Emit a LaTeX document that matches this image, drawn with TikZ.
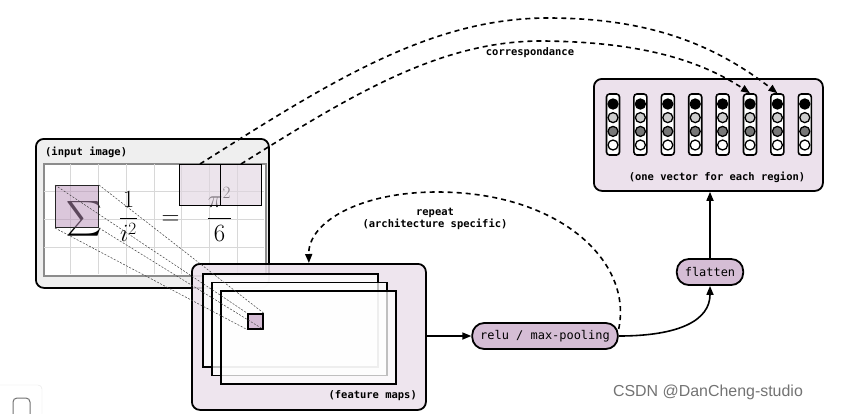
\documentclass[tikz,border=0pt]{standalone}
\usepackage{exscale}
\usepackage{fontspec}
\setmonofont{DejaVu Sans Mono}
\newfontfamily\wmfont{Liberation Sans}
\usetikzlibrary{arrows.meta}
\definecolor{inbg}{HTML}{EFEFEF}
\definecolor{pbg}{HTML}{ECE1EC}
\definecolor{opfill}{HTML}{D5BDD5}
\definecolor{sumfill}{HTML}{B890B8}
\definecolor{winfill}{HTML}{E0D3E0}
\definecolor{gridc}{HTML}{D8D8D8}
\definecolor{circl}{HTML}{CCCCCC}
\definecolor{circd}{HTML}{777777}
\begin{document}
\begin{tikzpicture}[x=1bp,y=-1bp,
  panel/.style={draw=black,line width=1.8bp,rounded corners=8bp,anchor=north west,inner sep=0pt},
  lbl/.style={font=\ttfamily\bfseries\fontsize{10.5}{12}\selectfont,inner sep=0pt},
  opnode/.style={draw=black,line width=1.8bp,rounded corners=12bp,fill=opfill,font=\ttfamily\fontsize{12}{14}\selectfont,minimum height=26bp,inner xsep=8bp,inner ysep=0pt},
  fmap/.style={draw=black,line width=1.8bp,fill=white,fill opacity=0.75,minimum width=175bp,minimum height=93bp,anchor=north west,inner sep=0pt},
  win/.style={draw=black,line width=1bp,fill=winfill,fill opacity=0.6,minimum width=41bp,minimum height=41bp,anchor=north west,inner sep=0pt},
  corr/.style={draw=black,line width=1.6bp,dash pattern=on 5bp off 4bp,-{Triangle[length=9bp,width=7bp]}},
  arr/.style={draw=black,line width=1.6bp,-{Triangle[length=9bp,width=7bp]}},
  rf/.style={draw=black!75,line width=0.5bp,dash pattern=on 2bp off 1.5bp},
  vcol/.style={draw=black,line width=1.6bp,fill=white,rounded corners=3bp,minimum width=13bp,minimum height=61bp,inner sep=0pt},
  vdot/.style={circle,draw=black,line width=1.3bp,minimum size=10bp,inner sep=0pt},
  mathtxt/.style={inner sep=0pt,font=\fontsize{26}{30}\selectfont}
]
\useasboundingbox (0,0) rectangle (846,413);
\fill[white] (0,0) rectangle (846,413);

% bottom-left fragment
\draw[black!10,fill=white,rounded corners=4bp] (-5,385) rectangle (42,420);
\draw[black!55,line width=1bp,rounded corners=4bp] (13,398) rectangle (30,420);

% input image panel
\node[panel,fill=inbg,minimum width=233bp,minimum height=149bp] (inp) at (35,138) {};
\node[lbl,anchor=west] (inplbl) at (45,152) {(input image)};
\node[draw=black!45,line width=1.5bp,fill=white,minimum width=222bp,minimum height=112bp,anchor=north west,inner sep=0pt] (img) at (43,163) {};
\foreach \i in {1,...,7} \draw[gridc,line width=0.8bp] ({43+27.75*\i},164) -- ({43+27.75*\i},274);
\foreach \j in {1,...,3} \draw[gridc,line width=0.8bp] (44,{163+28*\j}) -- (264,{163+28*\j});

\node[mathtxt,font=\fontsize{24}{28}\selectfont] (sig) at (84,219) {$\displaystyle\sum$};
\node[mathtxt,anchor=base] (f1) at (128.5,224.5) {$\displaystyle\frac{1}{i^2}$};
\node[mathtxt,anchor=base] (eq) at (170.5,224.5) {$=$};
\node[mathtxt,anchor=base] (f2) at (219.5,224.5) {$\displaystyle\frac{\pi^2}{6}$};

\node[draw=black!85,line width=1bp,fill=sumfill,fill opacity=0.5,minimum width=43bp,minimum height=42bp,anchor=north west,inner sep=0pt] (sq) at (55,185) {};
\node[win] (w1) at (179,164) {};
\node[win] (w2) at (220,164) {};

% feature maps panel
\node[panel,fill=pbg,fill opacity=0.85,minimum width=234bp,minimum height=146bp] (fm) at (191,263) {};
\node[lbl,anchor=east] (fmlbl) at (417,396) {(feature maps)};
\node[fmap] (r1) at (202,273) {};
\node[fmap] (r2) at (211,281.5) {};
\node[fmap] (r3) at (220,290) {};
\node[draw=black,line width=1.5bp,fill=opfill,minimum width=15bp,minimum height=15bp,anchor=north west,inner sep=0pt] (fs) at (247,313) {};

\draw[rf] (sq.north west) -- (fs.north west);
\draw[rf] (sq.north east) -- (fs.north east);
\draw[rf] (sq.south west) -- (fs.south west);
\draw[rf] (sq.south east) -- (fs.south east);

% vector panel
\node[panel,fill=pbg,minimum width=229bp,minimum height=112bp] (vec) at (593,78) {};
\node[lbl] (veclbl) at (717,177) {(one vector for each region)};
\foreach \i in {1,...,8} {
  \node[vcol] (col\i) at ({613+27.4*(\i-1)},124.5) {};
  \node[vdot,fill=black] (d\i-1) at ({613+27.4*(\i-1)},104) {};
  \node[vdot,fill=circl] (d\i-2) at ({613+27.4*(\i-1)},117.6) {};
  \node[vdot,fill=circd] (d\i-3) at ({613+27.4*(\i-1)},131.4) {};
  \node[vdot,fill=white] (d\i-4) at ({613+27.4*(\i-1)},145) {};
}

% operations
\node[opnode] (relu) at (545,336) {relu / max-pooling};
\node[opnode] (flat) at (710,272) {flatten};

\draw[arr] (fm.east |- relu.west) -- (relu.west);
\draw[arr] (relu.east) .. controls (680,336) and (710,320) .. (flat.south);
\draw[arr] (flat.north) -- (flat.north |- vec.south);

% repeat
\draw[corr] ([yshift=7bp]relu.east) .. controls (633,262) and (560,192) .. (437,192) .. controls (360,192) and (308,222) .. (fm.north);
\node[lbl,align=center] (rep) at (435,219) {repeat\\(architecture specific)};

% correspondance
\draw[corr] (w1.north) .. controls (330,82) and (430,18) .. (548,18) .. controls (650,18) and (715,45) .. (col7.north);
\draw[corr] (w2.north) .. controls (350,96) and (440,40) .. (544,41) .. controls (640,42) and (700,60) .. (col6.north);
\node[lbl] (corrlbl) at (530,53) {correspondance};

% watermark
\node[font=\wmfont\fontsize{16}{18}\selectfont,text=black!55,inner sep=0pt] (wm) at (708,392) {CSDN @DanCheng-studio};
\end{tikzpicture}
\end{document}
